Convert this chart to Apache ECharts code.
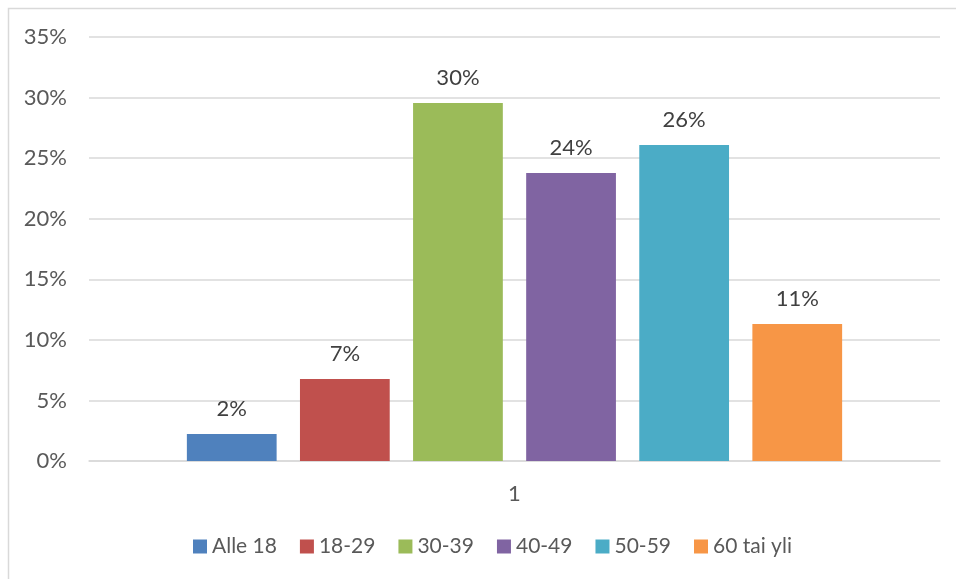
<!DOCTYPE html>
<html>
<head>
<meta charset="utf-8">
<script src="https://cdn.jsdelivr.net/npm/echarts@6/dist/echarts.min.js"></script>
<style>
  html, body { margin: 0; padding: 0; background: #fff; }
  #chart { width: 956px; height: 579px; }
</style>
</head>
<body>
<div id="chart"></div>
<script>
// Age-group shares (percent) for the single category "1"
const categories = ['1'];
const seriesNames = ['Alle 18', '18-29', '30-39', '40-49', '50-59', '60 tai yli'];
const seriesValues = [2.23, 6.77, 29.55, 23.77, 26.08, 11.31];
const seriesColors = ['#4f81bd', '#c0504d', '#9bbb59', '#8064a2', '#4bacc6', '#f79646'];
const yTicks = [0, 5, 10, 15, 20, 25, 30, 35];

const FONT = 'Lato, "Open Sans", "Noto Sans", sans-serif';
const TEXT = '#595959';

const chart = echarts.init(document.getElementById('chart'), null, { renderer: 'canvas' });

const series = seriesNames.map((name, i) => ({
  name: name,
  type: 'bar',
  data: [seriesValues[i]],
  itemStyle: { color: seriesColors[i] },
  barGap: '26%',
  barCategoryGap: '23%',
  label: {
    show: true,
    position: 'top',
    distance: 14,
    color: '#404040',
    fontFamily: FONT,
    fontSize: 22,
    formatter: p => Math.round(p.value) + '%'
  }
}));

chart.setOption({
  animation: false,
  backgroundColor: '#ffffff',
  graphic: [{
    type: 'rect',
    shape: { x: 8.5, y: 8.5, width: 1200, height: 1200 },
    style: { fill: 'none', stroke: '#d9d9d9', lineWidth: 1.5 },
    silent: true,
    z: -1
  }],
  grid: { left: 89, right: 16, top: 37, bottom: 118, containLabel: false },
  legend: {
    bottom: 17,
    left: 188,
    itemWidth: 14,
    itemHeight: 14,
    itemGap: 23,
    icon: 'rect',
    textStyle: { color: TEXT, fontFamily: FONT, fontSize: 21 },
    data: seriesNames
  },
  xAxis: {
    type: 'category',
    data: categories,
    axisLine: { lineStyle: { color: '#d9d9d9', width: 1.5 } },
    axisTick: { show: false },
    axisLabel: { color: TEXT, fontFamily: FONT, fontSize: 22, margin: 22 }
  },
  yAxis: {
    type: 'value',
    min: yTicks[0],
    max: yTicks[yTicks.length - 1],
    interval: 5,
    axisLine: { show: false },
    axisTick: { show: false },
    splitLine: { lineStyle: { color: '#d9d9d9', width: 1.5 } },
    axisLabel: { color: TEXT, fontFamily: FONT, fontSize: 22, margin: 22, formatter: v => v + '%' }
  },
  series: series
});
</script>
</body>
</html>
